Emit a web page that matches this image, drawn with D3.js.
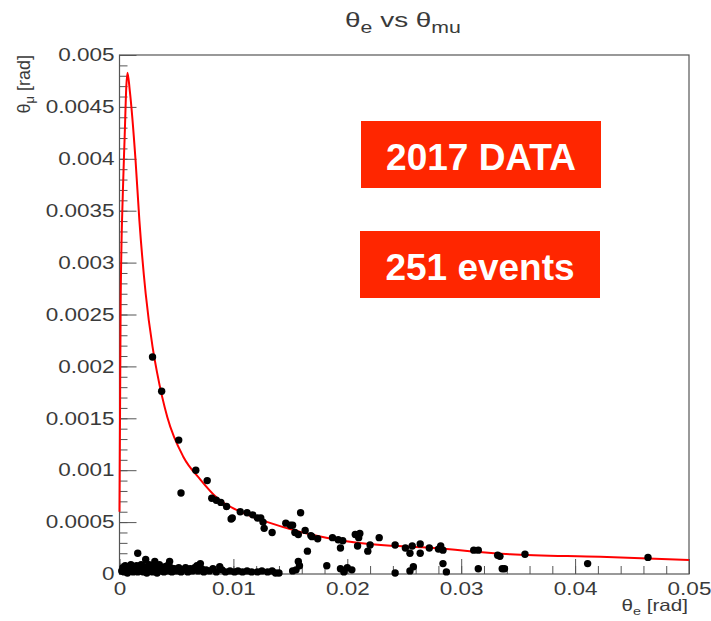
<!DOCTYPE html>
<html>
<head>
<meta charset="utf-8">
<script src="https://cdn.jsdelivr.net/npm/d3@7"></script>
<style>
  body { margin: 0; background: #fff; }
  svg text { font-family: "Liberation Sans", Arial, sans-serif; fill: #3a3a3a; }
</style>
</head>
<body>
<svg id="chart" width="711" height="621"></svg>
<script>
// ---- data (rad) ----
// theory curve theta_mu(theta_e)
var curvePts = [
  [0, 0.0006], [0.0001, 0.0026], [0.0003, 0.0037], [0.00045, 0.0042], [0.0006, 0.0047],
  [0.0007, 0.00483], [0.0009, 0.00466], [0.0014, 0.0040], [0.00175, 0.0034], [0.0023, 0.0027],
  [0.0029, 0.00219], [0.0033, 0.00194], [0.0042, 0.00151], [0.0056, 0.00113], [0.0071, 0.00091],
  [0.0086, 0.00073], [0.0106, 0.0006], [0.013, 0.0005], [0.0159, 0.000405], [0.0209, 0.0003],
  [0.0276, 0.00025], [0.0343, 0.00019], [0.0422, 0.000165], [0.05, 0.000135]
];

// events lying along the curve
var elasticEvents = [
  [0.0029, 0.00209], [0.0037, 0.00176], [0.0052, 0.00129], [0.0054, 0.00078], [0.0067, 0.0010],
  [0.0077, 0.00090], [0.0081, 0.00073], [0.0085, 0.00071], [0.0089, 0.00069], [0.0094, 0.00065],
  [0.0098, 0.00053], [0.0099, 0.00054], [0.0106, 0.00060], [0.0112, 0.00059], [0.0117, 0.00057],
  [0.0121, 0.00054], [0.0124, 0.00054], [0.0126, 0.00050], [0.0127, 0.00044], [0.0134, 0.00040],
  [0.0146, 0.00049], [0.0150, 0.00047], [0.0152, 0.00047], [0.0159, 0.00059], [0.0154, 0.00040],
  [0.0157, 0.00038], [0.0163, 0.00042], [0.0168, 0.00037], [0.0169, 0.00036], [0.0174, 0.00034],
  [0.0165, 0.00022], [0.0187, 0.00035], [0.0192, 0.00033], [0.0196, 0.00032], [0.0194, 0.00025],
  [0.0207, 0.00038], [0.0210, 0.00035], [0.0211, 0.00039], [0.0209, 0.00027], [0.0220, 0.00028],
  [0.0218, 0.00022], [0.0228, 0.00035], [0.0242, 0.00028], [0.0251, 0.00025], [0.0255, 0.00020],
  [0.0257, 0.00027], [0.0264, 0.00029], [0.0264, 0.00020], [0.0272, 0.00025], [0.0282, 0.00027],
  [0.0284, 0.00023], [0.0280, 0.00024], [0.0311, 0.00023], [0.0315, 0.00023], [0.0332, 0.00018],
  [0.0334, 0.00017], [0.0356, 0.00019], [0.0464, 0.00016]
];

// events at small theta_mu
var lowEvents = [
  [0.0016, 0.00020], [0.0023, 0.00014], [0.0031, 0.00012], [0.0044, 0.00012], [0.0040, 0.00007],
  [0.0071, 0.00010], [0.0088, 0.00007], [0.0157, 0.00012], [0.0182, 0.00008], [0.0338, 0.00005],
  [0.0411, 0.00010], [0.0284, 0.00010], [0.0242, 0.00001], [0.0255, 0.00003], [0.0258, 0.00007],
  [0.0287, 0.00002], [0.0315, 0.00005], [0.0336, 0.00005], [0.0194, 0.00005], [0.0197, 0.00002],
  [0.0200, 0.00006], [0.0204, 0.00004], [0.0140, 0.00001], [0.0152, 0.00003], [0.0155, 0.00004],
  [0.0158, 0.00008],
  [0.0002, 0.00003], [0.0003, 0.00006], [0.0004, 0.00002], [0.0005, 0.00008], [0.0006, 0.00004],
  [0.0007, 0.00001], [0.0008, 0.00006], [0.0009, 0.00003], [0.0010, 0.00009], [0.0011, 0.00005],
  [0.0012, 0.00002], [0.0013, 0.00007], [0.0014, 0.00004], [0.0015, 0.00008], [0.0016, 0.00002],
  [0.0017, 0.00006], [0.0018, 0.00003], [0.0019, 0.00009], [0.0020, 0.00005], [0.0021, 0.00002],
  [0.0022, 0.00007], [0.0023, 0.00004], [0.0024, 0.00001], [0.0025, 0.00006], [0.0026, 0.00009],
  [0.0027, 0.00003], [0.0028, 0.00006], [0.0029, 0.00002], [0.0030, 0.00008], [0.0031, 0.00004],
  [0.0032, 0.00006], [0.0033, 0.00001], [0.0034, 0.00005], [0.0035, 0.00009], [0.0036, 0.00003],
  [0.0037, 0.00006], [0.0039, 0.00002], [0.0041, 0.00005], [0.0042, 0.00008], [0.0043, 0.00003],
  [0.0045, 0.00006], [0.0046, 0.00002], [0.0048, 0.00005], [0.0050, 0.00003], [0.0052, 0.00006],
  [0.0054, 0.00002], [0.0056, 0.00004], [0.0058, 0.00006], [0.0060, 0.00002], [0.0062, 0.00005],
  [0.0064, 0.00003], [0.0066, 0.00006], [0.0068, 0.00008], [0.0069, 0.00003], [0.0072, 0.00005],
  [0.0074, 0.00002], [0.0076, 0.00004], [0.0079, 0.00003], [0.0082, 0.00005], [0.0085, 0.00002],
  [0.0090, 0.00004], [0.0093, 0.00002], [0.0097, 0.00003], [0.0101, 0.00002], [0.0104, 0.00003],
  [0.0108, 0.00002], [0.0112, 0.00003], [0.0116, 0.00002], [0.0121, 0.00002], [0.0125, 0.00003],
  [0.0130, 0.00002], [0.0134, 0.00003], [0.0137, 0.00001]
];

var xTicks = [0, 0.01, 0.02, 0.03, 0.04, 0.05];
var yTicks = [0, 0.0005, 0.001, 0.0015, 0.002, 0.0025, 0.003, 0.0035, 0.004, 0.0045, 0.005];
var boxLabels = ["2017 DATA", "251 events"];

// ---- layout ----
var svg = d3.select("#chart");
var padLeft = 119.5, padRight = 689, padTop = 55, padBottom = 574;

var x = d3.scaleLinear().domain([0, 0.05]).range([padLeft, padRight]);
var y = d3.scaleLinear().domain([0, 0.005]).range([padBottom, padTop]);

function fmt(d) { return d === 0 ? "0" : String(+d.toFixed(4)); }

// widen a text around the point (ox, oy); the source picture is stretched sideways
function widen(sel, ox, oy, k) {
  k = k || 1.25;
  sel.attr("transform", "translate(" + ox + "," + oy + ") scale(" + k + ",1) translate(" + (-ox) + "," + (-oy) + ")");
}

// minor ticks
svg.append("g")
    .attr("transform", "translate(0," + padBottom + ")")
    .call(d3.axisBottom(x).tickValues(d3.range(0, 0.0501, 0.002)).tickSize(-8).tickFormat(""))
    .call(function(g) { g.select(".domain").remove(); })
    .selectAll("line").attr("stroke", "#555");
svg.append("g")
    .attr("transform", "translate(" + padLeft + ",0)")
    .call(d3.axisLeft(y).tickValues(d3.range(0, 0.00501, 0.0001)).tickSize(-8).tickFormat(""))
    .call(function(g) { g.select(".domain").remove(); })
    .selectAll("line").attr("stroke", "#555");

// major ticks + labels
var xg = svg.append("g")
    .attr("transform", "translate(0," + padBottom + ")")
    .call(d3.axisBottom(x).tickValues(xTicks).tickSizeInner(-15).tickSizeOuter(0).tickPadding(8).tickFormat(fmt));
xg.select(".domain").remove();
xg.selectAll("line").attr("stroke", "#555");
xg.selectAll("text").attr("font-size", 18).attr("fill", "#3a3a3a").call(widen, 0, 0);

var yg = svg.append("g")
    .attr("transform", "translate(" + padLeft + ",0)")
    .call(d3.axisLeft(y).tickValues(yTicks).tickSizeInner(-17).tickSizeOuter(0).tickPadding(5).tickFormat(fmt));
yg.select(".domain").remove();
yg.selectAll("line").attr("stroke", "#555");
yg.selectAll("text").attr("font-size", 18).attr("fill", "#3a3a3a").call(widen, -5, 0);

// frame
svg.append("rect")
    .attr("x", padLeft).attr("y", padTop)
    .attr("width", padRight - padLeft).attr("height", padBottom - padTop)
    .attr("fill", "none").attr("stroke", "#555").attr("stroke-width", 1.2);

// theory curve
var line = d3.line()
    .x(function(d) { return x(d[0]); })
    .y(function(d) { return y(d[1]); })
    .curve(d3.curveMonotoneX);

svg.append("path")
    .datum(curvePts)
    .attr("d", line)
    .attr("fill", "none")
    .attr("stroke", "#ff0000")
    .attr("stroke-width", 2);

// events
svg.append("g").selectAll("circle")
    .data(lowEvents.concat(elasticEvents))
    .enter()
    .append("circle")
      .attr("cx", function(d) { return x(d[0]); })
      .attr("cy", function(d) { return y(d[1]); })
      .attr("r", 3.7)
      .attr("fill", "#000");

// title
var title = svg.append("text")
    .attr("x", 403).attr("y", 27)
    .attr("text-anchor", "middle")
    .attr("font-size", 21)
    .call(widen, 403, 0, 1.33);
title.append("tspan").text("θ");
title.append("tspan").attr("font-size", 16).attr("dy", 6).text("e");
title.append("tspan").attr("dy", -6).text(" vs θ");
title.append("tspan").attr("font-size", 16).attr("dy", 6).text("mu");

// axis titles
var xt = svg.append("text")
    .attr("x", 688).attr("y", 611)
    .attr("text-anchor", "end")
    .attr("font-size", 16.5)
    .call(widen, 688, 0);
xt.append("tspan").text("θ");
xt.append("tspan").attr("font-size", 11.5).attr("dy", 4).text("e");
xt.append("tspan").attr("dy", -4).text(" [rad]");

var yt = svg.append("text")
    .attr("transform", "translate(30,55) rotate(-90)")
    .attr("text-anchor", "end")
    .attr("font-size", 18);
yt.append("tspan").text("θ");
yt.append("tspan").attr("font-size", 13).attr("dy", 4).text("μ");
yt.append("tspan").attr("dy", -4).text(" [rad]");

// red label boxes
var boxes = svg.append("g").selectAll("g")
    .data(boxLabels)
    .enter()
    .append("g")
      .attr("transform", function(d, i) { return "translate(" + (361 - i) + "," + (121 + i * 110) + ")"; });
boxes.append("rect")
    .attr("width", 240).attr("height", 67)
    .attr("fill", "#ff2600");
boxes.append("text")
    .attr("x", 120).attr("y", 49)
    .attr("text-anchor", "middle")
    .attr("font-size", 37)
    .attr("font-weight", "bold")
    .style("fill", "#fff")
    .text(function(d) { return d; });
</script>
</body>
</html>
